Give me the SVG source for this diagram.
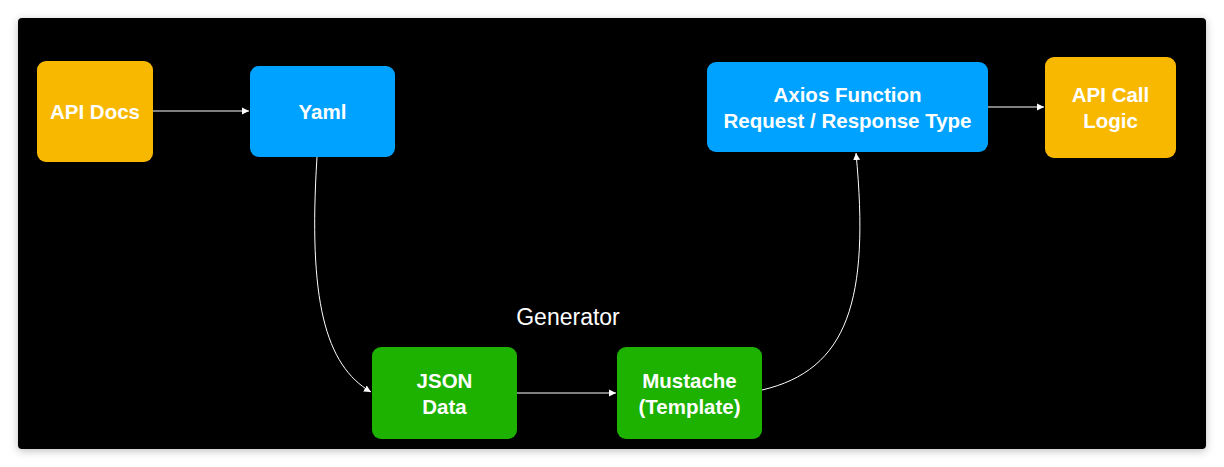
<svg xmlns="http://www.w3.org/2000/svg" width="1224" height="467" viewBox="0 0 1224 467">
<style>
.node text{font-family:"Liberation Sans",Arial,sans-serif;font-weight:bold;font-size:20.5px;fill:#fff;text-anchor:middle}
.orange{fill:#F8B800}
.blue{fill:#00A2FF}
.green{fill:#1DB100}
.conn path{fill:none;stroke:#fff;stroke-width:1}
.label{font-family:"Liberation Sans",Arial,sans-serif;font-size:23px;fill:#fff;text-anchor:middle}
</style>
<defs>
<marker id="arrow" markerWidth="8" markerHeight="8" refX="7" refY="4" orient="auto" markerUnits="userSpaceOnUse">
<path d="M0,0.5 L7,4 L0,7.5 Z" fill="#fff"/>
</marker>
<filter id="shadow" x="-5%" y="-5%" width="110%" height="115%">
<feDropShadow dx="0" dy="2" stdDeviation="4" flood-color="#000" flood-opacity="0.25"/>
</filter>
</defs>
<rect width="1224" height="467" fill="#fff"/>
<rect x="18" y="18" width="1188" height="431" rx="4" fill="#000" filter="url(#shadow)"/>
<g class="conn">
<path d="M153,111 L249,111" marker-end="url(#arrow)"/>
<path d="M317,157 C308,300 325,365 371,392" marker-end="url(#arrow)"/>
<path d="M517,393 L616,393" marker-end="url(#arrow)"/>
<path d="M762,390 C848,370 870,300 856,153" marker-end="url(#arrow)"/>
<path d="M988,107 L1044,107" marker-end="url(#arrow)"/>
</g>
<g id="api-docs" class="node">
<rect class="orange" x="37" y="61" width="116" height="101" rx="9"/>
<text x="95" y="118.5">API Docs</text>
</g>
<g id="yaml" class="node">
<rect class="blue" x="250" y="66" width="145" height="91" rx="9"/>
<text x="322.5" y="118.5">Yaml</text>
</g>
<g id="axios" class="node">
<rect class="blue" x="707" y="62" width="281" height="90" rx="9"/>
<text x="847.5" y="102">Axios Function</text>
<text x="847.5" y="128">Request / Response Type</text>
</g>
<g id="api-call" class="node">
<rect class="orange" x="1045" y="57" width="131" height="101" rx="9"/>
<text x="1110.5" y="102">API Call</text>
<text x="1110.5" y="128">Logic</text>
</g>
<g id="json" class="node">
<rect class="green" x="372" y="347" width="145" height="92" rx="9"/>
<text x="444.5" y="388">JSON</text>
<text x="444.5" y="414">Data</text>
</g>
<g id="mustache" class="node">
<rect class="green" x="617" y="347" width="145" height="92" rx="9"/>
<text x="689.5" y="388">Mustache</text>
<text x="689.5" y="414">(Template)</text>
</g>
<text class="label" x="568" y="325">Generator</text>
</svg>
